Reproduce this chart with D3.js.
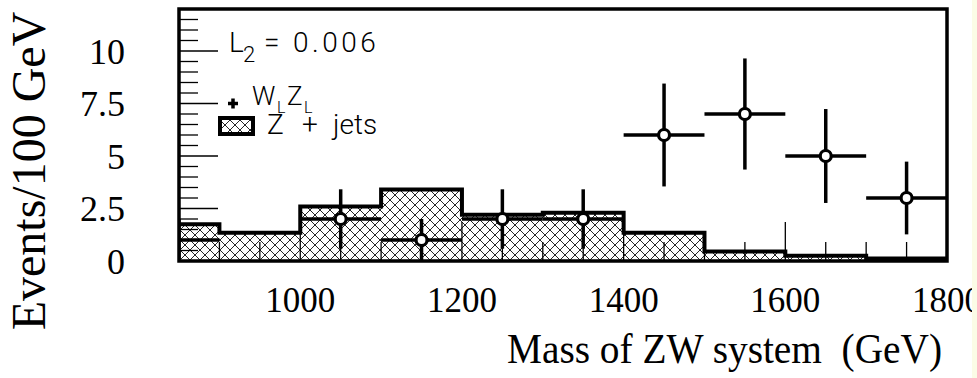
<!DOCTYPE html>
<html>
<head>
<meta charset="utf-8">
<script src="https://cdn.jsdelivr.net/npm/d3@7"></script>
<style>
  html, body { margin: 0; padding: 0; background: #fbfce6; }
  svg { display: block; }
</style>
</head>
<body>
<svg id="chart" width="977" height="378"></svg>
<script>
// Z + jets background, 100 GeV bins (lower edges)
const binEdges = [800, 900, 1000, 1100, 1200, 1300, 1400, 1500, 1600, 1700, 1800];
const zjets    = [1.75, 1.35, 2.6, 3.4, 2.2, 2.3, 1.35, 0.45, 0.25, 0.12];

// W_L Z_L signal events per bin (bin centres)
const sigMass   = [850, 1050, 1150, 1250, 1350, 1450, 1550, 1650, 1750];
const sigEvents = [1, 2, 1, 2, 2, 6, 7, 5, 3];

const xTickLabels = [1000, 1200, 1400, 1600, 1800];
const yTickLabels = [0, 2.5, 5, 7.5, 10];
const legendLumi = "0.006";

const svg = d3.select("#chart");
const W = 977, H = 378;

const x = d3.scaleLinear().domain([850, 1800]).range([179, 947]);
const y = d3.scaleLinear().domain([0, 12]).range([261, 9]);

// whole picture is cut off on the right
const defs = svg.append("defs");
defs.append("clipPath").attr("id", "page")
  .append("rect").attr("x", 0).attr("y", 0).attr("width", 972).attr("height", H);
defs.append("clipPath").attr("id", "frame")
  .append("rect").attr("x", x.range()[0]).attr("y", y.range()[1])
  .attr("width", x.range()[1] - x.range()[0]).attr("height", y.range()[0] - y.range()[1]);

const pat = defs.append("pattern").attr("id", "xhatch")
  .attr("patternUnits", "userSpaceOnUse").attr("width", 10).attr("height", 10);
pat.append("path").attr("d", "M-1,-1L11,11M11,-1L-1,11")
  .attr("stroke", "#000").attr("stroke-width", 0.85).attr("fill", "none");

const page = svg.append("g").attr("clip-path", "url(#page)");
page.append("rect").attr("width", W).attr("height", H).attr("fill", "#fff");

const plot = page.append("g").attr("clip-path", "url(#frame)");

// histogram: last bin repeated so the step reaches the upper edge
const steps = binEdges.map((e, i) => ({ m: e, v: zjets[Math.min(i, zjets.length - 1)] }));
plot.append("path").datum(steps)
  .attr("d", d3.area().curve(d3.curveStepAfter).x(d => x(d.m)).y0(y(0)).y1(d => y(d.v)))
  .attr("fill", "url(#xhatch)");

// axis ticks drawn inside the frame
const tickG = plot.append("g").attr("stroke", "#000").attr("stroke-width", 1.3);
d3.range(0, 12.01, 0.5).forEach(v => {
  const major = Math.abs(v / 2.5 - Math.round(v / 2.5)) < 1e-6;
  tickG.append("line").attr("x1", x(850)).attr("x2", x(850) + (major ? 39 : 19))
    .attr("y1", y(v)).attr("y2", y(v));
});
d3.range(850, 1801, 50).forEach(m => {
  const major = m % 200 === 0;
  tickG.append("line").attr("x1", x(m)).attr("x2", x(m))
    .attr("y1", y(0)).attr("y2", y(0) - (major ? 39 : 19));
});

plot.append("path").datum(steps)
  .attr("d", d3.line().curve(d3.curveStepAfter).x(d => x(d.m)).y(d => y(d.v)))
  .attr("fill", "none").attr("stroke", "#000").attr("stroke-width", 4);

// signal points with sqrt(N) errors, horizontal bars over the bin width
const pts = sigMass.map((m, i) => ({ m, n: sigEvents[i], e: Math.sqrt(sigEvents[i]) }));
const errG = plot.append("g").attr("stroke", "#000").attr("stroke-width", 3.5);
pts.forEach(p => {
  errG.append("line").attr("x1", x(p.m - 50)).attr("x2", x(p.m + 50))
    .attr("y1", y(p.n)).attr("y2", y(p.n));
  errG.append("line").attr("x1", x(p.m)).attr("x2", x(p.m))
    .attr("y1", y(p.n + p.e)).attr("y2", y(Math.max(0, p.n - p.e)));
});
plot.selectAll("circle.pt").data(pts.filter(p => p.m > x.domain()[0]))
  .join("circle").attr("class", "pt")
  .attr("cx", d => x(d.m)).attr("cy", d => y(d.n)).attr("r", 5.5)
  .attr("fill", "#fff").attr("stroke", "#000").attr("stroke-width", 3.2);

// frame
page.append("rect").attr("x", x.range()[0]).attr("y", y.range()[1])
  .attr("width", x.range()[1] - x.range()[0]).attr("height", y.range()[0] - y.range()[1])
  .attr("fill", "none").attr("stroke", "#000").attr("stroke-width", 3.5);

// tick labels
const serif = "'Liberation Serif', 'Times New Roman', serif";
page.selectAll("text.yl").data(yTickLabels).join("text").attr("class", "yl")
  .attr("x", 125).attr("y", d => y(d)).attr("dy", "0.35em")
  .attr("text-anchor", "end").attr("font-family", serif).attr("font-size", 36)
  .text(d => d);
page.selectAll("text.xl").data(xTickLabels).join("text").attr("class", "xl")
  .attr("x", d => x(d)).attr("y", 312)
  .attr("text-anchor", "middle").attr("font-family", serif).attr("font-size", 35)
  .text(d => d);

// axis titles
page.append("text").attr("x", 507).attr("y", 363)
  .attr("font-family", serif).attr("font-size", 42).style("white-space", "pre")
  .attr("textLength", 435).attr("lengthAdjust", "spacingAndGlyphs")
  .text("Mass of ZW system  (GeV)");
page.append("text").attr("transform", "translate(45,171) rotate(-90)")
  .attr("text-anchor", "middle").attr("font-family", serif).attr("font-size", 48)
  .text("Events/100 GeV");

// legend
const sans = "Roboto, 'Liberation Sans', sans-serif";
const leg = page.append("g").attr("font-family", sans).attr("font-weight", 300)
  .attr("font-size", 28).attr("fill", "#000");

const t1 = leg.append("text").attr("y", 52);
t1.append("tspan").attr("x", 229).text("L");
t1.append("tspan").attr("x", 243).attr("dy", 10).attr("font-size", 22).text("2");
t1.append("tspan").attr("x", 264).attr("dy", -10).text("=");
t1.append("tspan").attr("x", 293).attr("letter-spacing", 3.5).text(legendLumi);

leg.append("path")
  .attr("d", `M${228},${y(7.5)}h10M${233},${y(7.5) - 5}v10`)
  .attr("stroke", "#000").attr("stroke-width", 3.5);
const t2 = leg.append("text").attr("y", 105);
t2.append("tspan").attr("x", 252).attr("font-size", 26).text("W");
t2.append("tspan").attr("x", 277).attr("dy", 8).attr("font-size", 16).text("L");
t2.append("tspan").attr("x", 287).attr("dy", -8).attr("font-size", 26).text("Z");
t2.append("tspan").attr("x", 304).attr("dy", 8).attr("font-size", 16).text("L");

leg.append("rect").attr("x", 220).attr("y", 118).attr("width", 33).attr("height", 16)
  .attr("fill", "url(#xhatch)").attr("stroke", "#000").attr("stroke-width", 4);
const t3 = leg.append("text").attr("y", 134);
t3.append("tspan").attr("x", 267).text("Z");
t3.append("tspan").attr("x", 302).text("+");
t3.append("tspan").attr("x", 333).text("jets");
</script>
</body>
</html>
